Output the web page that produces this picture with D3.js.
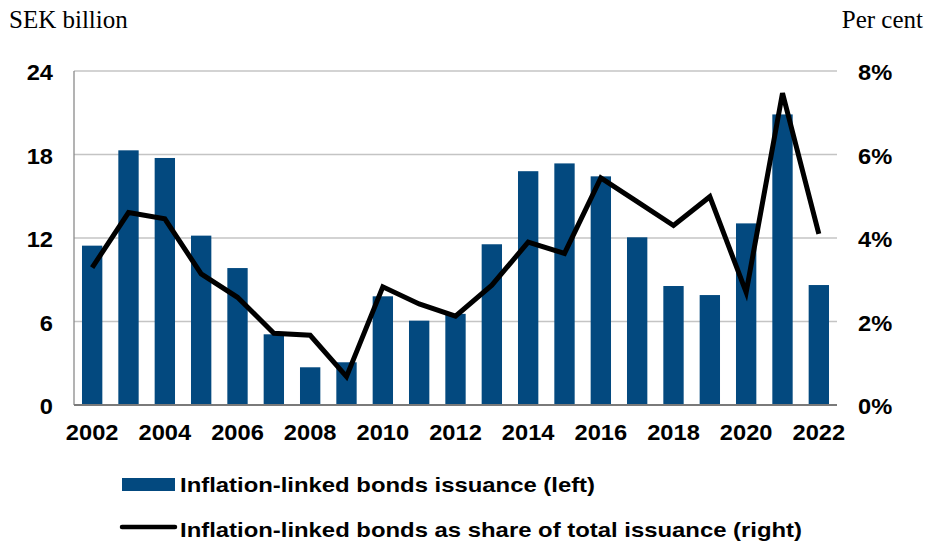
<!DOCTYPE html>
<html>
<head>
<meta charset="utf-8">
<script src="https://cdn.jsdelivr.net/npm/d3@7"></script>
<style>
  body { margin: 0; background: #fff; }
  svg { display: block; }
  .tick text { font-family: "Liberation Sans", Arial, sans-serif; font-weight: bold; font-size: 21.5px; fill: #000; }
</style>
</head>
<body>
<svg id="chart" width="926" height="543"></svg>
<script>
var years = ["2002","2003","2004","2005","2006","2007","2008","2009","2010","2011","2012",
             "2013","2014","2015","2016","2017","2018","2019","2020","2021","2022"];
var issuance = [11.45, 18.3, 17.75, 12.17, 9.84, 5.08, 2.71, 3.07, 7.81, 6.06, 6.55,
                11.55, 16.8, 17.36, 16.43, 12.05, 8.55, 7.9, 13.05, 20.88, 8.62];
var share = [3.29, 4.61, 4.46, 3.14, 2.58, 1.72, 1.67, 0.68, 2.83, 2.42, 2.13,
             2.87, 3.9, 3.63, 5.44, 4.87, 4.3, 4.99, 2.7, 7.47, 4.1];
var leftTicks = [0, 6, 12, 18, 24];
var rightTicks = [0, 2, 4, 6, 8];
var yearLabels = ["2002","2004","2006","2008","2010","2012","2014","2016","2018","2020","2022"];

var svg = d3.select("#chart"),
    margin = {top: 71, right: 89, bottom: 138, left: 74},
    width = +svg.attr("width") - margin.left - margin.right,
    height = +svg.attr("height") - margin.top - margin.bottom;

var barColor = "#03497f";

var x = d3.scaleBand().domain(years).range([0, width]).paddingInner(0.44).paddingOuter(0.22),
    y = d3.scaleLinear().domain([0, 24]).range([height, 0]),
    y2 = d3.scaleLinear().domain([0, 8]).range([height, 0]);

var g = svg.append("g")
    .attr("transform", "translate(" + margin.left + "," + margin.top + ")");

// gridlines
g.selectAll(".grid")
    .data(leftTicks.slice(1))
  .enter().append("line")
    .attr("class", "grid")
    .attr("x1", 0).attr("x2", width)
    .attr("y1", function(d) { return y(d); })
    .attr("y2", function(d) { return y(d); })
    .attr("stroke", "#c4c4c4")
    .attr("stroke-width", 1.3);

// bars
g.selectAll(".bar")
    .data(issuance)
  .enter().append("rect")
    .attr("class", "bar")
    .attr("x", function(d, i) { return x(years[i]); })
    .attr("width", x.bandwidth())
    .attr("y", function(d) { return y(d); })
    .attr("height", function(d) { return height - y(d); })
    .attr("fill", barColor);

// left axis line
g.append("line")
    .attr("x1", 0).attr("x2", 0)
    .attr("y1", 0).attr("y2", height)
    .attr("stroke", "#8a8a8a")
    .attr("stroke-width", 1.3);

// bottom axis line
g.append("line")
    .attr("x1", 0).attr("x2", width)
    .attr("y1", height).attr("y2", height)
    .attr("stroke", "#7a7a7a")
    .attr("stroke-width", 2);

// share line
var line = d3.line()
    .x(function(d, i) { return x(years[i]) + x.bandwidth() / 2; })
    .y(function(d) { return y2(d); });

g.append("path")
    .datum(share)
    .attr("fill", "none")
    .attr("stroke", "#000")
    .attr("stroke-width", 5)
    .attr("stroke-linejoin", "miter")
    .attr("d", line);

// left axis labels
var axL = g.append("g")
    .call(d3.axisLeft(y).tickValues(leftTicks).tickSize(0).tickPadding(21));
axL.select(".domain").remove();
axL.selectAll("text").attr("dy", "0.4em");

// right axis labels
var axR = g.append("g")
    .attr("transform", "translate(" + width + ",0)")
    .call(d3.axisRight(y2).tickValues(rightTicks).tickSize(0).tickPadding(21)
      .tickFormat(function(d) { return d + "%"; }));
axR.select(".domain").remove();
axR.selectAll("text").attr("dy", "0.4em");

// bottom axis labels
var axB = g.append("g")
    .attr("transform", "translate(0," + height + ")")
    .call(d3.axisBottom(x).tickValues(yearLabels).tickSize(0).tickPadding(20));
axB.select(".domain").remove();

// the source glyphs are a bit wider than Liberation Sans, stretch them
g.selectAll(".tick text").each(function() {
  var w = this.getComputedTextLength();
  d3.select(this).attr("textLength", w * 1.1).attr("lengthAdjust", "spacingAndGlyphs");
});

// unit titles
svg.append("text")
    .attr("x", 9).attr("y", 28)
    .style("font-family", "'Liberation Serif', 'Times New Roman', serif")
    .style("font-size", "25px")
    .text("SEK billion");

svg.append("text")
    .attr("x", 923).attr("y", 28)
    .attr("text-anchor", "end")
    .style("font-family", "'Liberation Serif', 'Times New Roman', serif")
    .style("font-size", "25px")
    .text("Per cent");

// legend
var legend = svg.append("g");
legend.append("rect")
    .attr("x", 122).attr("y", 478)
    .attr("width", 53).attr("height", 13)
    .attr("fill", barColor);
legend.append("line")
    .attr("x1", 122).attr("x2", 175)
    .attr("y1", 527).attr("y2", 527)
    .attr("stroke", "#000")
    .attr("stroke-width", 4.5)
    .attr("stroke-linecap", "round");

legend.selectAll(".legtext")
    .data([{t: "Inflation-linked bonds issuance (left)", y: 492, w: 415},
           {t: "Inflation-linked bonds as share of total issuance (right)", y: 537, w: 622}])
  .enter().append("text")
    .attr("class", "legtext")
    .attr("x", 180)
    .attr("y", function(d) { return d.y; })
    .attr("textLength", function(d) { return d.w; })
    .attr("lengthAdjust", "spacingAndGlyphs")
    .style("font-family", "'Liberation Sans', Arial, sans-serif")
    .style("font-weight", "bold")
    .style("font-size", "21px")
    .text(function(d) { return d.t; });
</script>
</body>
</html>
